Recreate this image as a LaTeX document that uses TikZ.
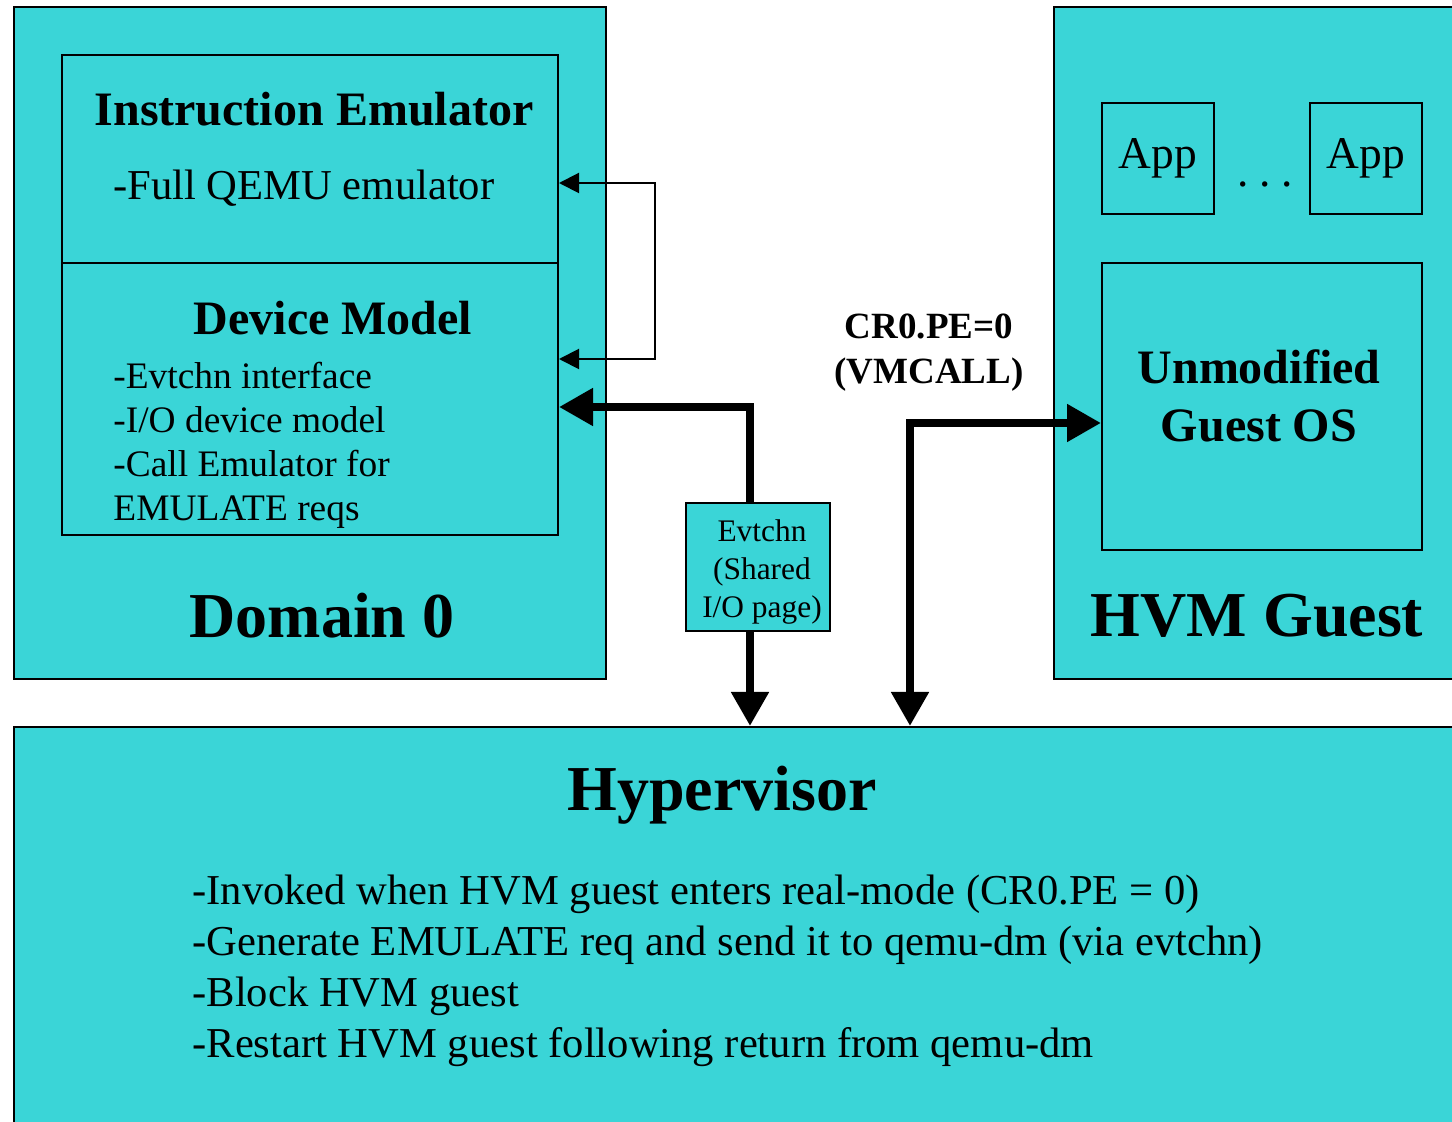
\documentclass[tikz,border=0pt]{standalone}
\usepackage{fontspec}
\setmainfont{Liberation Serif}
\usetikzlibrary{arrows.meta,positioning,fit}
\definecolor{xenblue}{HTML}{3AD5D7}

\begin{document}
\begin{tikzpicture}[x=0.5pt, y=-0.5pt]
        % Define styles
        \tikzset{
            area/.style={draw, fill=xenblue, line width=1pt, inner sep=0pt},
            box/.style={draw, line width=1pt, inner sep=0pt},
            bigtitle/.style={font=\fontsize{32}{38}\selectfont\bfseries},
            title/.style={font=\fontsize{24}{29}\selectfont\bfseries},
            body/.style={font=\fontsize{21.3}{25.5}\selectfont, align=left, inner sep=0pt},
            small/.style={font=\fontsize{18.7}{22}\selectfont, align=left, inner sep=0pt},
            link/.style={line width=1pt, {Triangle[length=10pt,width=10pt]}-{Triangle[length=10pt,width=10pt]}},
            bus/.style={line width=4pt, -{Triangle[length=17pt,width=18pt]}},
            bibus/.style={line width=4pt, {Triangle[length=17pt,width=18pt]}-{Triangle[length=17pt,width=18pt]}}
        }
        \useasboundingbox (0,0) rectangle (1452,1122);
        \clip (0,0) rectangle (1452,1122);

        % Outer areas
        \node[area, fit={(14,7) (606,679)}] (dom0) {};
        \node[area, fit={(1054,7) (1480,679)}] (hvm) {};
        \node[area, fit={(14,727) (1480,1150)}] (hv) {};

        % Domain 0
        \node[box, fit={(62,55) (558,263)}] (emu) {};
        \node[box, fit={(62,263) (558,535)}] (dm) {};
        \node[title] (emutitle) at (314,109) {Instruction Emulator};
        \node[body, anchor=west] (qemu) at (113,188) {-Full QEMU emulator};
        \node[title] (dmtitle) at (333,318) {Device Model};
        \node[small, anchor=west] (dmtext) at (113,445) {-Evtchn interface\\-I/O device model\\-Call Emulator for\\EMULATE reqs};
        \node[bigtitle] (dom0label) at (322,616) {Domain 0};

        % HVM guest
        \node[box, minimum width=56pt, minimum height=55.5pt, font=\fontsize{22.7}{27}\selectfont] (app1) at (1158,158.5) {\raisebox{-1.5pt}{App}};
        \node[box, minimum width=56pt, minimum height=55.5pt, font=\fontsize{22.7}{27}\selectfont] (app2) at (1366,158.5) {\raisebox{-1.5pt}{App}};
        \node[font=\fontsize{22.7}{27}\selectfont, anchor=base] (dots) at (1265,187) {.\kern5.3pt.\kern5.3pt.};
        \node[box, minimum width=160pt, minimum height=143.5pt] (os) at (1262,406.5) {};
        \node[title, align=center] (ostext) at (1259,396) {Unmodified\\Guest OS};
        \node[bigtitle] (hvmlabel) at (1257,616) {HVM Guest};

        % Shared page and hypercall label
        \node[box, fill=xenblue, minimum width=72pt, minimum height=64pt] (ev) at (758,567) {};
        \node[align=center, font=\fontsize{15.7}{19}\selectfont] (evtext) at (762,572) {Evtchn\\(Shared\\I/O page)};
        \node[align=center, font=\fontsize{18.5}{22.5}\selectfont\bfseries] (cr0) at (929,353) {CR0.PE=0\\(VMCALL)};

        % Hypervisor
        \node[bigtitle] (hvlabel) at (722,795) {Hypervisor};
        \node[body, anchor=west] (hvtext) at (192,971) {-Invoked when HVM guest enters real-mode (CR0.PE = 0)\\-Generate EMULATE req and send it to qemu-dm (via evtchn)\\-Block HVM guest\\-Restart HVM guest following return from qemu-dm};

        % Draw arrows
        \coordinate (bend1) at (655,183);
        \coordinate (bend2) at (655,359);
        \draw[link] (emu.east |- bend1) -- (bend1) -- (bend2) -- (dm.east |- bend2);
        \coordinate (evup) at (750,407);
        \draw[bus] (ev.north -| evup) -- (evup) -- (dm.east |- evup);
        \draw[bus] (ev.south -| evup) -- (hv.north -| evup);
        \coordinate (vmcall) at (910,423);
        \draw[bibus] (hv.north -| vmcall) -- (vmcall) -- (os.west |- vmcall);
\end{tikzpicture}
\end{document}
